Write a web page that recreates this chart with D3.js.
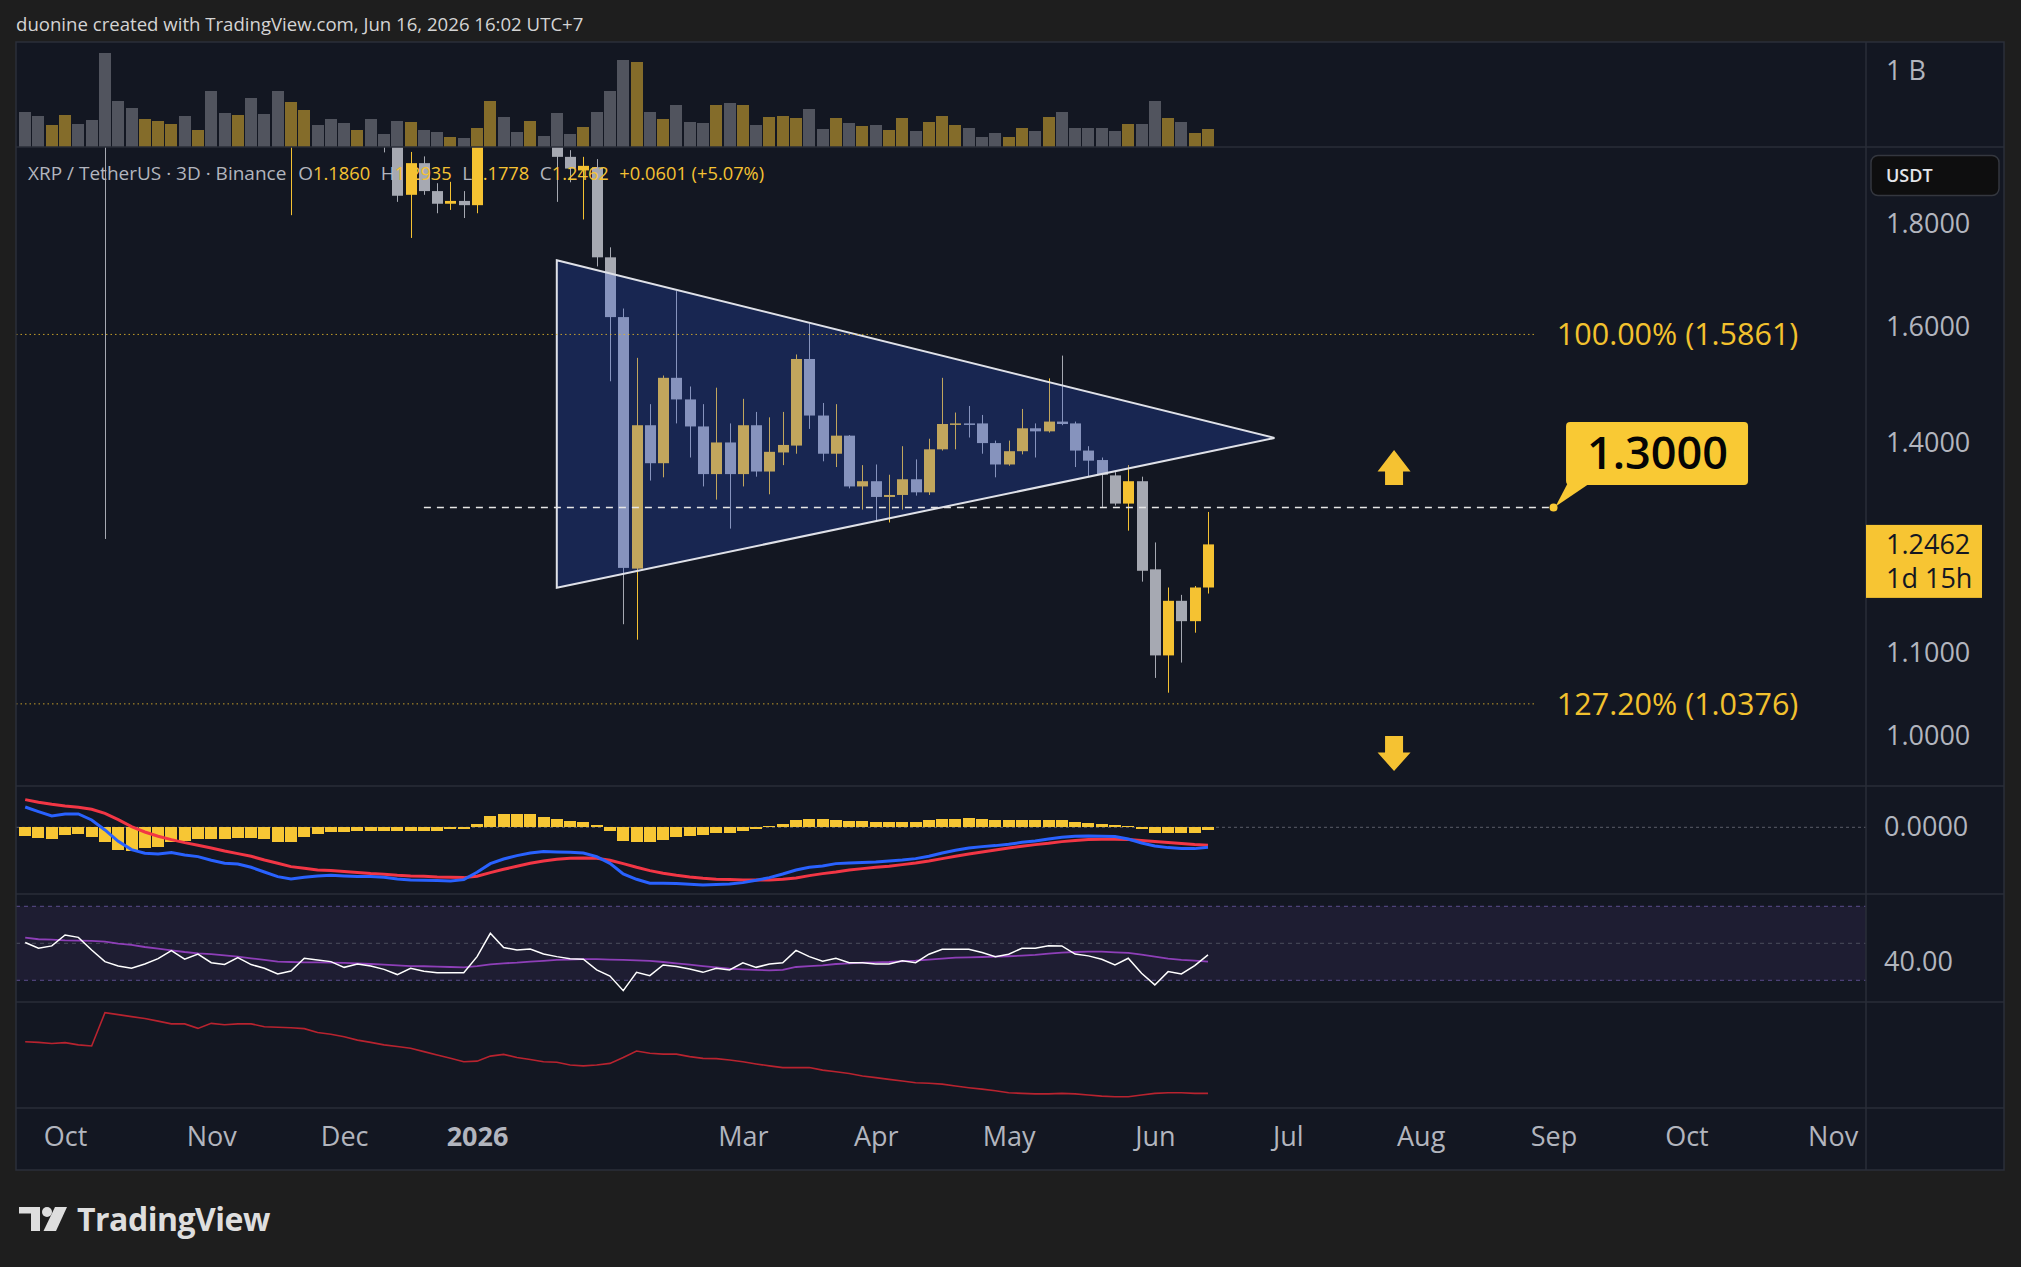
<!DOCTYPE html>
<html><head><meta charset="utf-8">
<script src="https://cdn.jsdelivr.net/npm/d3@7"></script>
<style>
html,body{margin:0;padding:0;background:#1e1e1e;}
svg{display:block;font-family:"Open Sans","Noto Sans",sans-serif;}
</style></head><body>
<svg id="chart" width="2021" height="1267"></svg>
<script>
// ---------------- DATA ----------------
const barStart = "2025-09-21";            // first visible 3D bar
const opens  = [2.90,2.82,2.78,2.86,2.99,2.95,2.83,2.36,2.32,2.28, 2.42,2.52,2.62,2.48,2.52,2.25,2.20,2.45,2.28,2.24, 2.05,2.12,2.21,2.16,2.09,2.04,2.08,2.02,1.99,1.862, 1.931,1.870,1.843,1.849,1.840,2.00,2.10,2.05,2.01,2.04, 1.99,1.945,1.915,1.922,1.733,1.618,1.212,1.429,1.368,1.509, 1.472,1.427,1.351,1.401,1.351,1.429,1.355,1.385,1.396,1.542, 1.445,1.383,1.412,1.332,1.340,1.316,1.319,1.343,1.323,1.390, 1.431,1.432,1.432,1.400,1.366,1.387,1.424,1.419,1.435,1.432, 1.388,1.373,1.349,1.306,1.340,1.211,1.097,1.168,1.141,1.1860];
const highs  = [2.95,2.88,2.90,3.05,3.08,3.00,2.88,2.55,2.45,2.48, 2.60,2.68,2.66,2.58,2.56,2.38,2.55,2.50,2.34,2.28, 2.18,2.26,2.26,2.22,2.18,2.12,2.11,2.06,2.02,1.956, 1.946,1.887,1.89,1.87,2.02,2.16,2.18,2.09,2.08,2.06, 2.01,1.96,1.945,1.94,1.753,1.634,1.544,1.464,1.513,1.667, 1.494,1.464,1.492,1.432,1.473,1.451,1.442,1.451,1.550,1.606, 1.466,1.464,1.413,1.365,1.366,1.350,1.395,1.374,1.407,1.509, 1.450,1.461,1.446,1.404,1.404,1.456,1.432,1.508,1.548,1.435, 1.395,1.377,1.354,1.365,1.347,1.249,1.186,1.176,1.188,1.2935];
const lows   = [2.78,2.70,2.75,2.82,2.90,2.78,1.254,2.28,2.25,2.20, 2.38,2.45,2.42,2.40,2.15,2.10,2.16,2.22,2.15,1.99, 1.819,2.06,2.10,2.04,2.00,2.00,1.99,1.955,1.847,1.772, 1.862,1.823,1.83,1.813,1.823,1.98,2.00,1.98,1.98,1.975, 1.847,1.889,1.81,1.715,1.503,1.137,1.117,1.341,1.346,1.432, 1.377,1.332,1.312,1.269,1.332,1.347,1.320,1.365,1.383,1.423, 1.371,1.362,1.329,1.297,1.280,1.278,1.297,1.318,1.319,1.388, 1.390,1.409,1.383,1.346,1.364,1.382,1.377,1.417,1.429,1.362, 1.347,1.301,1.303,1.266,1.194,1.069,1.051,1.088,1.126,1.1778];
const closes = [2.82,2.78,2.86,2.99,2.95,2.83,2.36,2.32,2.28,2.42, 2.52,2.62,2.48,2.52,2.25,2.20,2.45,2.28,2.24,2.05, 2.12,2.21,2.16,2.09,2.04,2.08,2.02,1.99,1.86,1.931, 1.870,1.843,1.849,1.840,2.00,2.10,2.05,2.01,2.04,1.99, 1.945,1.919,1.925,1.733,1.618,1.213,1.429,1.368,1.509,1.472, 1.427,1.351,1.401,1.351,1.429,1.355,1.386,1.397,1.542,1.445, 1.383,1.412,1.332,1.340,1.316,1.319,1.343,1.323,1.390,1.431, 1.432,1.431,1.400,1.366,1.387,1.424,1.419,1.435,1.431,1.388, 1.372,1.350,1.306,1.340,1.209,1.097,1.168,1.141,1.186,1.2462];
const volumesM = [465,412,294,425,307,360,1246,610,518,373, 347,307,412,228,741,452,425,649,439,741, 597,491,294,373,320,228,373,175,347,333, 228,202,136,123,254,610,399,202,347,149, 452,175,268,465,741,1149,1123,465,373,557, 333,320,557,583,557,294,399,412,386,504, 241,386,320,281,294,228,386,215,333,412, 294,254,136,189,136,254,215,399,465,254, 254,254,215,307,307,610,386,333,189,241];
const macdLine = [0.0508,0.0392,0.0283,0.0333,0.0333,0.0183,-0.0067,-0.035,-0.0558,-0.065, -0.0667,-0.0633,-0.0692,-0.0733,-0.0825,-0.09,-0.0917,-0.1,-0.1117,-0.1233, -0.1292,-0.125,-0.1217,-0.12,-0.1217,-0.1233,-0.1233,-0.125,-0.1292,-0.1317, -0.1325,-0.1333,-0.1342,-0.1308,-0.1125,-0.0908,-0.0792,-0.0708,-0.0642,-0.0608, -0.0617,-0.0625,-0.0642,-0.0733,-0.09,-0.1167,-0.13,-0.14,-0.14,-0.1408, -0.1425,-0.1442,-0.1433,-0.1417,-0.1383,-0.1325,-0.1258,-0.1167,-0.1067,-0.1, -0.0967,-0.0908,-0.0892,-0.0883,-0.0867,-0.0842,-0.0817,-0.0783,-0.0725,-0.0642, -0.0575,-0.0517,-0.0483,-0.0458,-0.0425,-0.0375,-0.0342,-0.0292,-0.025,-0.0225, -0.0217,-0.0225,-0.0233,-0.0292,-0.0392,-0.0467,-0.0508,-0.0533,-0.0533,-0.05];
const signalLine = [0.0692,0.0625,0.0575,0.0533,0.05,0.045,0.035,0.0192,0.0017,-0.0117, -0.0225,-0.0308,-0.0383,-0.045,-0.0517,-0.0592,-0.0658,-0.0725,-0.0817,-0.09, -0.0983,-0.1025,-0.1067,-0.1083,-0.1108,-0.1133,-0.1158,-0.1175,-0.12,-0.1217, -0.1225,-0.1242,-0.125,-0.1258,-0.1225,-0.1133,-0.105,-0.0975,-0.09,-0.0842, -0.08,-0.0775,-0.0767,-0.0775,-0.0825,-0.0908,-0.1,-0.1083,-0.115,-0.12, -0.1242,-0.1275,-0.13,-0.1308,-0.1317,-0.1317,-0.1317,-0.13,-0.1267,-0.1208, -0.1158,-0.1117,-0.1067,-0.1033,-0.1,-0.0975,-0.0933,-0.0892,-0.0842,-0.0783, -0.0725,-0.0667,-0.0617,-0.0567,-0.0517,-0.0475,-0.0433,-0.04,-0.0358,-0.0333, -0.0308,-0.03,-0.03,-0.0308,-0.0333,-0.0358,-0.0383,-0.0408,-0.0433,-0.045];
const macdHist = [-0.0217,-0.0258,-0.0292,-0.0192,-0.0167,-0.0233,-0.0358,-0.0567,-0.0583,-0.0508, -0.05,-0.0375,-0.0333,-0.0292,-0.03,-0.0292,-0.0275,-0.0275,-0.0292,-0.0358, -0.0358,-0.0233,-0.0167,-0.0125,-0.0108,-0.0083,-0.0083,-0.0083,-0.0092,-0.0083, -0.0083,-0.0083,-0.005,-0.0033,0.0083,0.0283,0.0325,0.0325,0.0325,0.0267, 0.02,0.0167,0.0142,0.0058,-0.0083,-0.0333,-0.0358,-0.0375,-0.0317,-0.0233, -0.0208,-0.0192,-0.015,-0.0133,-0.0083,-0.0033,0.0033,0.0083,0.0183,0.02, 0.02,0.0183,0.0167,0.0158,0.0142,0.0142,0.0142,0.0142,0.0183,0.0208, 0.0208,0.0233,0.0208,0.0183,0.0183,0.0183,0.0183,0.0183,0.0183,0.0142, 0.01,0.0083,0.0058,0.0033,-0.005,-0.0133,-0.0133,-0.0133,-0.015,-0.0067];
const rsiValues = [50.4,47.3,48.6,54.5,53.2,46.4,40.1,37.7,36.5,38.8, 41.7,46.0,41.4,44.2,39.5,38.6,42.3,38.5,36.5,33.4, 35.0,41.9,41.0,40.1,37.0,38.8,37.7,35.9,33.1,36.5, 34.9,34.1,34.1,34.1,42.8,55.4,47.7,46.4,46.9,44.2, 42.8,41.7,41.4,35.6,32.3,24.4,34.3,32.5,38.3,37.4, 36.1,34.3,36.5,35.6,39.5,37.0,38.8,39.5,46.2,42.8, 40.3,41.9,39.5,39.5,38.8,38.8,40.5,39.5,44.1,46.8, 46.8,46.8,45.0,42.8,44.1,47.3,47.3,48.7,48.6,44.2, 43.2,41.4,38.3,41.9,33.8,27.5,34.7,33.4,37.9,43.7];
const rsiMA = [53.1,52.2,52.0,51.6,51.4,51.3,50.9,49.8,49.1,48.0, 47.1,46.2,45.3,44.6,44.1,43.5,42.8,41.9,41.0,40.1, 39.9,39.7,39.7,39.5,39.4,39.2,38.8,38.5,38.1,37.7, 37.6,37.4,37.2,37.0,37.7,38.6,39.2,39.5,40.1,40.5, 41.0,41.2,41.4,41.4,41.2,41.0,40.8,40.5,39.9,39.2, 38.5,37.7,37.0,36.3,35.9,35.6,35.4,35.6,37.2,37.7, 38.1,38.8,39.2,39.5,39.7,39.9,40.3,40.6,41.2,41.7, 42.3,42.4,42.6,42.8,43.0,43.3,43.7,44.4,45.0,45.3, 45.5,45.5,45.1,44.8,43.9,42.8,41.7,41.0,40.6,40.1];
const atrValues = [0.316,0.314,0.310,0.313,0.305,0.301,0.420,0.413,0.406,0.399, 0.390,0.380,0.380,0.364,0.382,0.377,0.380,0.380,0.370,0.368, 0.366,0.363,0.349,0.343,0.334,0.322,0.314,0.305,0.299,0.293, 0.281,0.269,0.257,0.245,0.247,0.265,0.271,0.260,0.253,0.245, 0.243,0.233,0.230,0.233,0.239,0.260,0.283,0.275,0.272,0.272, 0.263,0.257,0.256,0.251,0.245,0.237,0.230,0.224,0.224,0.224, 0.215,0.209,0.203,0.194,0.188,0.182,0.176,0.170,0.168,0.165, 0.158,0.152,0.147,0.141,0.134,0.132,0.130,0.130,0.132,0.130, 0.126,0.122,0.120,0.120,0.126,0.132,0.134,0.134,0.132,0.132];

const priceTicks = [1.8, 1.6, 1.4, 1.1, 1.0];
const monthTickDates  = ["2025-09-30","2025-11-02","2025-12-02","2026-01-01","2026-03-02","2026-04-01","2026-05-01","2026-06-03","2026-07-03","2026-08-02","2026-09-01","2026-10-01","2026-11-03"];
const monthTickLabels = ["Oct","Nov","Dec","2026","Mar","Apr","May","Jun","Jul","Aug","Sep","Oct","Nov"];
const fibLabels = ["100.00%", "127.20%"];
const fibValues = [1.5861, 1.0376];
const fibEnd = "2026-08-28";
const triangleDates  = ["2026-01-19","2026-06-30","2026-01-19"];
const trianglePrices = [1.7272, 1.4083, 1.1857];
const targetPrice = 1.3;
const targetStart = "2025-12-20", targetEnd = "2026-09-01";
const arrowDate = "2026-07-27";
const arrowUpBase = 1.334, arrowDownTop = 1.0;
const lastPrice = 1.2462, countdown = "1d 15h";
const titleText = "duonine created with TradingView.com, Jun 16, 2026 16:02 UTC+7";
const legendSymbol = "XRP / TetherUS · 3D · Binance";
const legendOHLC = [["O","1.1860"],["H","1.2935"],["L","1.1778"],["C","1.2462"]];
const legendChange = "+0.0601 (+5.07%)";

// ---------------- LAYOUT ----------------
const UP = "#f5c232", DOWN = "#a6a9b2", TXT = "#b2b5be", BG = "#131722", GRID = "#2a2e39";
const L = 16, R = 2004, PR = 1866;
const P = {vol:[42,147], price:[147,786], macd:[786,894], rsi:[894,1002], atr:[1002,1108], time:[1108,1170]};

const svg = d3.select("#chart");
const parse = d3.utcParse("%Y-%m-%d");
const start = parse(barStart);
const bars = opens.map((o,i)=>({date:d3.utcDay.offset(start,3*i), o, h:highs[i], l:lows[i], c:closes[i], v:volumesM[i],
  macd:macdLine[i], sig:signalLine[i], hist:macdHist[i], rsi:rsiValues[i], rsima:rsiMA[i], atr:atrValues[i]}));

const x = d3.scaleUtc().domain([bars[0].date, bars[bars.length-1].date]).range([25.2, 1208]);
const y = d3.scaleLog().domain([1.0, 1.8]).range([736, 224.3]);
const yVol = d3.scaleLinear().domain([0, 1000]).range([147.3, 71.3]);
const yMacd = d3.scaleLinear().domain([0, 0.1]).range([827.3, 787.3]);
const yRsi = d3.scaleLinear().domain([30, 70]).range([980.3, 906.3]);
const yAtr = d3.scaleLinear().domain([0.12, 0.42]).range([1096.7, 1012.7]);

// background
svg.append("rect").attr("width",2021).attr("height",1267).attr("fill","#1e1e1e");
svg.append("rect").attr("x",L).attr("y",42).attr("width",R-L).attr("height",1170-42).attr("fill",BG);

// title
svg.append("text").attr("x",16).attr("y",24).attr("dy","0.35em").attr("fill","#d4d4d4")
  .attr("font-size",18.6).text(titleText);

// clip paths
const defs = svg.append("defs");
Object.entries(P).forEach(([k,[t,b]])=>{
  defs.append("clipPath").attr("id","clip-"+k).append("rect").attr("x",L).attr("y",t).attr("width",PR-L).attr("height",b-t);
});

// ---- volume
const gVol = svg.append("g").attr("clip-path","url(#clip-vol)");
gVol.selectAll("rect").data(bars).join("rect")
  .attr("x",d=>x(d.date)-6).attr("width",12)
  .attr("y",d=>yVol(d.v)).attr("height",d=>yVol(0)-yVol(d.v))
  .attr("fill",d=>d.c>=d.o?UP:DOWN).attr("fill-opacity",d=>d.c>=d.o?0.5:0.42)
  .attr("shape-rendering","crispEdges");

// ---- price candles
const gPrice = svg.append("g").attr("clip-path","url(#clip-price)");
const gC = gPrice.append("g");
gC.selectAll("line").data(bars).join("line")
  .attr("x1",d=>Math.round(x(d.date))+0.5).attr("x2",d=>Math.round(x(d.date))+0.5)
  .attr("y1",d=>y(d.h)).attr("y2",d=>y(d.l))
  .attr("stroke",d=>d.c>=d.o?UP:DOWN).attr("stroke-width",1);
gC.selectAll("rect").data(bars).join("rect")
  .attr("x",d=>Math.round(x(d.date))-5).attr("width",11)
  .attr("y",d=>y(Math.max(d.o,d.c)))
  .attr("height",d=>Math.max(1.5, Math.abs(y(d.o)-y(d.c))))
  .attr("fill",d=>d.c>=d.o?UP:DOWN);

// triangle overlay
const tri = triangleDates.map((d,i)=>[x(parse(d)), y(trianglePrices[i])]);
gPrice.append("polygon").attr("points",tri.map(p=>p.join(",")).join(" "))
  .attr("fill","rgb(41,82,222)").attr("fill-opacity",0.25)
  .attr("stroke","#dfe1e8").attr("stroke-width",2).attr("stroke-linejoin","miter");

// fib levels
const fibX2 = x(parse(fibEnd));
fibValues.forEach((v,i)=>{
  gPrice.append("line").attr("x1",L).attr("x2",fibX2).attr("y1",y(v)).attr("y2",y(v))
    .attr("stroke","#e2b52c").attr("stroke-width",1).attr("stroke-dasharray","1.5,3").attr("opacity",0.85);
  svg.append("text").attr("x",fibX2+21).attr("y",y(v)).attr("dy","0.35em").attr("fill","#f2c12e")
    .attr("font-size",30.5).text(`${fibLabels[i]} (${v.toFixed(4)})`);
});

// target dashed line
const tx1 = x(parse(targetStart)), tx2 = x(parse(targetEnd)), ty = y(targetPrice);
gPrice.append("line").attr("x1",tx1).attr("x2",tx2).attr("y1",ty).attr("y2",ty)
  .attr("stroke","#e6e6e6").attr("stroke-width",1.5).attr("stroke-dasharray","7,6");

// callout
const cg = svg.append("g").attr("transform",`translate(${tx2},${ty})`);
cg.append("polygon").attr("points","14,-24 36,-24 2,-1").attr("fill","#f9c934");
cg.append("circle").attr("r",4).attr("fill","#f9c934");
cg.append("rect").attr("x",12.5).attr("y",-85.5).attr("width",182).attr("height",63).attr("rx",4).attr("fill","#f9c934");
cg.append("text").attr("x",104).attr("y",-54).attr("dy","0.35em").attr("text-anchor","middle")
  .attr("font-size",45).attr("font-weight",600).attr("fill","#050505").text(targetPrice.toFixed(4));

// arrows
const ax = x(parse(arrowDate));
const ub = y(arrowUpBase);
svg.append("path").attr("d",`M${ax},${ub-35} L${ax+16.5},${ub-13.5} L${ax+9},${ub-13.5} L${ax+9},${ub} L${ax-9},${ub} L${ax-9},${ub-13.5} L${ax-16.5},${ub-13.5} Z`).attr("fill",UP);
const dt = y(arrowDownTop);
svg.append("path").attr("d",`M${ax},${dt+35} L${ax+16.5},${dt+16.5} L${ax+9},${dt+16.5} L${ax+9},${dt} L${ax-9},${dt} L${ax-9},${dt+16.5} L${ax-16.5},${dt+16.5} Z`).attr("fill",UP);

// ---- MACD
const gM = svg.append("g").attr("clip-path","url(#clip-macd)");
gM.append("line").attr("x1",L).attr("x2",PR).attr("y1",yMacd(0)).attr("y2",yMacd(0))
  .attr("stroke","#787b86").attr("stroke-dasharray","3,3").attr("opacity",0.7);
gM.selectAll("rect").data(bars).join("rect")
  .attr("x",d=>x(d.date)-6).attr("width",12)
  .attr("y",d=>Math.min(yMacd(0),yMacd(d.hist))).attr("height",d=>Math.abs(yMacd(d.hist)-yMacd(0)))
  .attr("fill","#f7c634").attr("shape-rendering","crispEdges");
gM.append("path").datum(bars).attr("d",d3.line().x(d=>x(d.date)).y(d=>yMacd(d.sig)))
  .attr("fill","none").attr("stroke","#f23645").attr("stroke-width",3);
gM.append("path").datum(bars).attr("d",d3.line().x(d=>x(d.date)).y(d=>yMacd(d.macd)))
  .attr("fill","none").attr("stroke","#2962ff").attr("stroke-width",3);

// ---- RSI
const gR = svg.append("g").attr("clip-path","url(#clip-rsi)");
gR.append("rect").attr("x",L).attr("width",PR-L).attr("y",yRsi(70)).attr("height",yRsi(30)-yRsi(70))
  .attr("fill","rgb(126,87,194)").attr("fill-opacity",0.1);
[[70,"#5b4d8c"],[50,"#4a4e5c"],[30,"#5b4d8c"]].forEach(([v,c])=>{
  gR.append("line").attr("x1",L).attr("x2",PR).attr("y1",yRsi(v)).attr("y2",yRsi(v))
    .attr("stroke",c).attr("stroke-dasharray","4,4");
});
gR.append("path").datum(bars).attr("d",d3.line().x(d=>x(d.date)).y(d=>yRsi(d.rsima)))
  .attr("fill","none").attr("stroke","#8e3fb8").attr("stroke-width",1.8);
gR.append("path").datum(bars).attr("d",d3.line().x(d=>x(d.date)).y(d=>yRsi(d.rsi)))
  .attr("fill","none").attr("stroke","#ffffff").attr("stroke-width",1.5);

// ---- ATR-like pane
const gA = svg.append("g").attr("clip-path","url(#clip-atr)");
gA.append("path").datum(bars).attr("d",d3.line().x(d=>x(d.date)).y(d=>yAtr(d.atr)))
  .attr("fill","none").attr("stroke","#b8232f").attr("stroke-width",1.6);

// ---- separators & frame
[147,786,894,1002,1108].forEach(v=>{
  svg.append("line").attr("x1",L).attr("x2",R).attr("y1",v).attr("y2",v).attr("stroke",GRID).attr("stroke-width",1.5);
});
svg.append("line").attr("x1",PR).attr("x2",PR).attr("y1",42).attr("y2",1170).attr("stroke",GRID).attr("stroke-width",1.5);
svg.append("rect").attr("x",L).attr("y",42).attr("width",R-L).attr("height",1170-42)
  .attr("fill","none").attr("stroke","#2b2f3a").attr("stroke-width",1.5);

// ---- axes
function styleAxis(g, size){
  g.select(".domain").remove();
  g.selectAll("text").attr("fill",TXT).attr("font-size",size).attr("font-family","'Open Sans','Noto Sans',sans-serif");
}
const axPrice = svg.append("g").attr("transform",`translate(${PR},0)`)
  .call(d3.axisRight(y).tickValues(priceTicks).tickFormat(d3.format(".4f")).tickSize(0).tickPadding(20));
styleAxis(axPrice,27);
const axVol = svg.append("g").attr("transform",`translate(${PR},0)`)
  .call(d3.axisRight(yVol).tickValues([1000]).tickFormat(()=> "1 B").tickSize(0).tickPadding(20));
styleAxis(axVol,27);
const axMacd = svg.append("g").attr("transform",`translate(${PR},0)`)
  .call(d3.axisRight(yMacd).tickValues([0]).tickFormat(d3.format(".4f")).tickSize(0).tickPadding(18));
styleAxis(axMacd,27);
const axRsi = svg.append("g").attr("transform",`translate(${PR},0)`)
  .call(d3.axisRight(yRsi).tickValues([40]).tickFormat(d3.format(".2f")).tickSize(0).tickPadding(18));
styleAxis(axRsi,27);

const tickDates = monthTickDates.map(parse);
const axTime = svg.append("g").attr("transform",`translate(0,${P.time[0]})`)
  .call(d3.axisBottom(x).tickValues(tickDates).tickFormat((d,i)=>monthTickLabels[i]).tickSize(0));
styleAxis(axTime,27);
axTime.selectAll("text").attr("y",29).attr("dy","0.35em")
  .attr("font-weight",(d,i)=>monthTickLabels[i]==="2026"?700:400);

// USDT button
svg.append("rect").attr("x",1871).attr("y",155.5).attr("width",128).attr("height",40).attr("rx",7)
  .attr("fill","#0e0e0f").attr("stroke","#34373f").attr("stroke-width",1.5);
svg.append("text").attr("x",1886).attr("y",175.5).attr("dy","0.35em").attr("fill","#e3e5ea")
  .attr("font-size",18).attr("font-weight",600).text("USDT");

// last price label
const lp = y(lastPrice);
svg.append("rect").attr("x",PR).attr("y",lp-19.5).attr("width",116).attr("height",73).attr("fill","#f7c533");
svg.append("text").attr("x",1886).attr("y",lp).attr("dy","0.35em").attr("fill","#131722").attr("font-size",27).text(lastPrice.toFixed(4));
svg.append("text").attr("x",1886).attr("y",lp+34).attr("dy","0.35em").attr("fill","#131722").attr("font-size",27).text(countdown);

// legend
const leg = svg.append("text").attr("x",28).attr("y",173).attr("dy","0.35em").attr("font-size",19);
leg.append("tspan").attr("fill",TXT).text(legendSymbol);
legendOHLC.forEach(([k,v],i)=>{
  leg.append("tspan").attr("fill",TXT).attr("dx",i===0?12:10.5).text(k);
  leg.append("tspan").attr("fill",UP).attr("font-size",18.3).text(v);
});
leg.append("tspan").attr("fill",UP).attr("dx",10.5).attr("font-size",18.3).text(legendChange);

// TradingView logo
const lg = svg.append("g").attr("fill","#dedede");
lg.append("path").attr("d","M19,1207 H40 V1231 H31 V1213.5 H19 Z");
lg.append("circle").attr("cx",47).attr("cy",1212).attr("r",5);
lg.append("path").attr("d","M55,1207 H67 L56,1231 H43.5 Z");
lg.append("text").attr("x",77).attr("y",1231).attr("font-size",32).attr("font-weight",700)
  .attr("letter-spacing",-0.5).text("TradingView");
</script>
</body></html>
